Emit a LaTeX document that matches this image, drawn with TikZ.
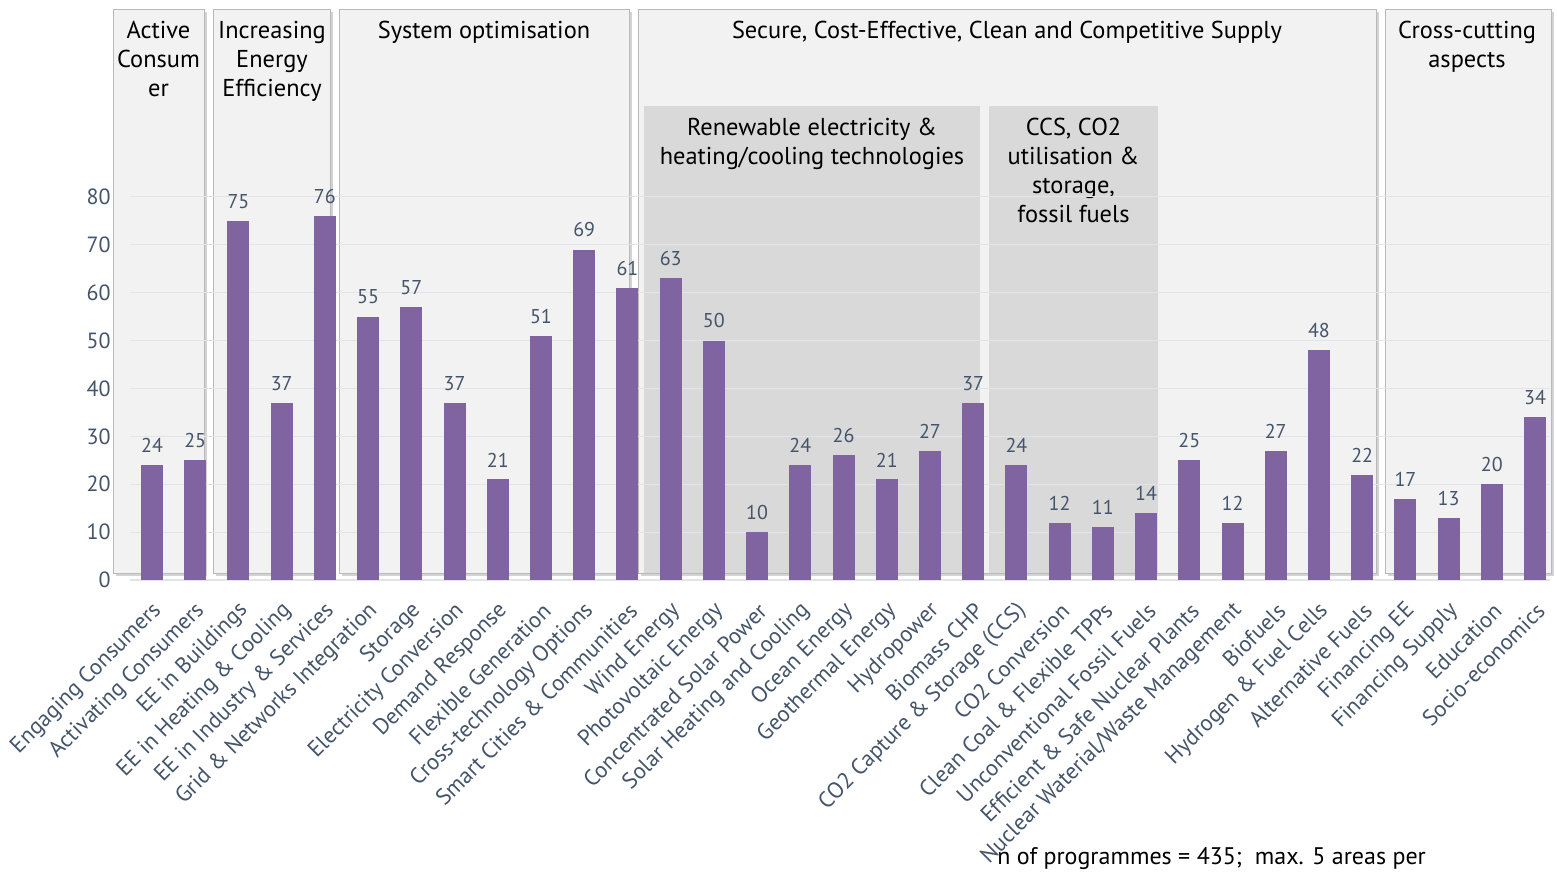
\documentclass[tikz,border=0pt]{standalone}
\usepackage{fontspec}
\setmainfont{PT Sans}
\usetikzlibrary{shadows}
\definecolor{barpurple}{HTML}{8064A2}
\definecolor{labelslate}{HTML}{44546A}
\definecolor{panelfill}{HTML}{F2F2F2}
\definecolor{subfill}{HTML}{D9D9D9}
\definecolor{gridgray}{HTML}{E1E4EA}
\tikzset{
  panel/.style={draw=gray!55, fill=panelfill, drop shadow={opacity=0.35, shadow xshift=1.5pt, shadow yshift=-1.5pt}},
  subpanel/.style={fill=subfill},
  heading/.style={align=center, anchor=north, inner sep=0pt, font=\fontsize{12.2}{14.5}\selectfont},
  gridline/.style={draw=gridgray, line width=0.6pt},
  bar/.style={fill=barpurple},
  vallabel/.style={anchor=south, inner sep=0pt, text=labelslate, font=\fontsize{10}{11}\selectfont},
  ticklabel/.style={anchor=east, inner sep=0pt, text=labelslate, font=\fontsize{11}{12}\selectfont},
  catlabel/.style={anchor=east, rotate=45, inner sep=0pt, text=labelslate, font=\fontsize{11.3}{12}\selectfont}
}
\begin{document}
\begin{tikzpicture}[x=0.5pt,y=-0.5pt]
  \useasboundingbox (0,0) rectangle (1557,875);

  % panels
  \draw[panel] (113,9) rectangle (204,573);
  \draw[panel] (213,9) rectangle (330,573);
  \draw[panel] (339,9) rectangle (629,573);
  \draw[panel] (638,9) rectangle (1376,573);
  \draw[panel] (1385,9) rectangle (1551,573);
  \fill[subpanel] (644,106) rectangle (980,573);
  \fill[subpanel] (989,106) rectangle (1158,573);

  \node[heading] (hActive) at (158.5,21) {Active\\Consum\\er};
  \node[heading] (hEff) at (272,21) {Increasing\\Energy\\Efficiency};
  \node[heading] (hSys) at (484,21) {System optimisation};
  \node[heading] (hSupply) at (1007,21) {Secure, Cost-Effective, Clean and Competitive Supply};
  \node[heading] (hCross) at (1467,21) {Cross-cutting\\aspects};
  \node[heading] (hRenew) at (812,118) {Renewable electricity \&\\heating/cooling technologies};
  \node[heading] (hCCS) at (1073.5,118) {CCS, CO2\\utilisation \&\\storage,\\fossil fuels};

  % grid and axis
  \foreach \t in {0,10,...,80}{
    \draw[gridline] (130,580-4.79*\t) -- (1550,580-4.79*\t);
    \node[ticklabel] (t\t) at (111,580-4.79*\t) {\t};
  }

  % bars
  \foreach \v/\name [count=\i] in {24/Engaging Consumers, 25/Activating Consumers, 75/EE in Buildings,
      37/EE in Heating \& Cooling, 76/EE in Industry \& Services, 55/Grid \& Networks Integration,
      57/Storage, 37/Electricity Conversion, 21/Demand Response, 51/Flexible Generation,
      69/Cross-technology Options, 61/Smart Cities \& Communities, 63/Wind Energy,
      50/Photovoltaic Energy, 10/Concentrated Solar Power, 24/Solar Heating and Cooling,
      26/Ocean Energy, 21/Geothermal Energy, 27/Hydropower, 37/Biomass CHP,
      24/CO2 Capture \& Storage (CCS), 12/CO2 Conversion, 11/Clean Coal \& Flexible TPPs,
      14/Unconventional Fossil Fuels, 25/Efficient \& Safe Nuclear Plants,
      12/{Nuclear Waterial/Waste Management}, 27/Biofuels, 48/Hydrogen \& Fuel Cells,
      22/Alternative Fuels, 17/Financing EE, 13/Financing Supply, 20/Education, 34/Socio-economics}{
    \pgfmathsetmacro{\x}{152+43.22*(\i-1)}
    \fill[bar] (\x-11,580) rectangle (\x+11,580-4.79*\v);
    \node[vallabel] (v\i) at (\x,568-4.79*\v) {\v};
    \node[catlabel] (c\i) at (\x+6,607) {\name};
  }

  \node[anchor=west, inner sep=0pt, font=\fontsize{12}{14}\selectfont] (note) at (997,858) {n of programmes = 435;\ \ max. 5 areas per};
\end{tikzpicture}
\end{document}
